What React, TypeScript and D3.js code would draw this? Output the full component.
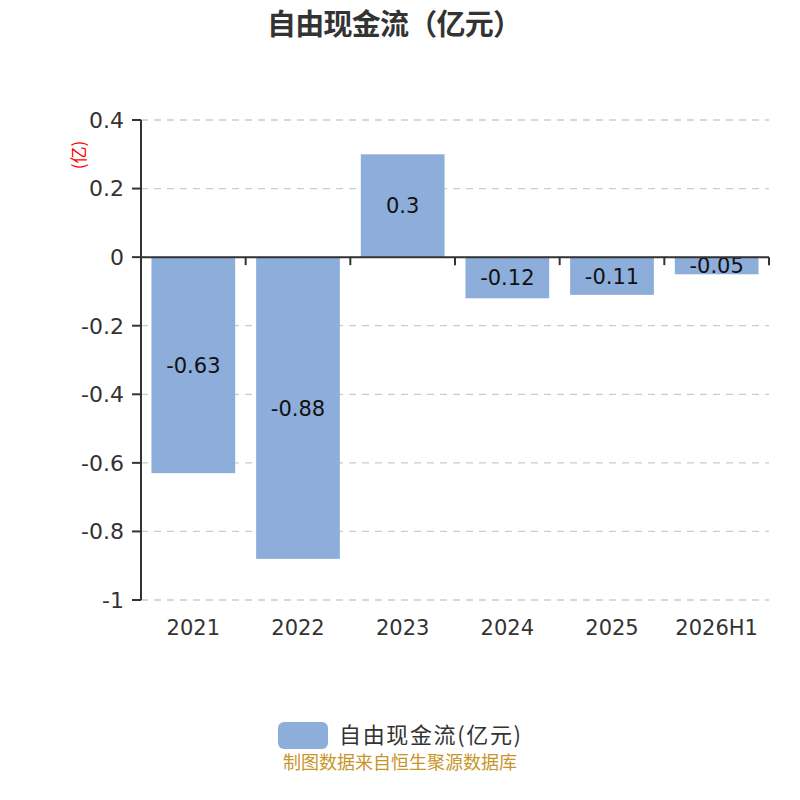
import React from "react";
import * as d3 from "d3";

const categories = ["2021", "2022", "2023", "2024", "2025", "2026H1"];
const values = [-0.63, -0.88, 0.3, -0.12, -0.11, -0.05];
const valueLabels = ["-0.63", "-0.88", "0.3", "-0.12", "-0.11", "-0.05"];
const yTicks = [0.4, 0.2, 0, -0.2, -0.4, -0.6, -0.8, -1];
const title = "自由现金流（亿元）";
const seriesName = "自由现金流(亿元)";
const unitLabel = "(亿)";
const footer = "制图数据来自恒生聚源数据库";

const W = 800;
const H = 800;
const left = 141;
const right = 769;
const top = 120;
const bottom = 600;
const cjkFont = "'Noto Sans CJK SC', 'Noto Sans', sans-serif";
const numFont = "'DejaVu Sans', 'Noto Sans', sans-serif";
const barColor = "#8daddb";

export default function App() {
  const x = d3.scaleBand<string>().domain(categories).range([left, right]).paddingInner(0.2).paddingOuter(0.1);
  const band = d3.scaleBand<string>().domain(categories).range([left, right]);
  const y = d3.scaleLinear().domain([-1, 0.4]).range([bottom, top]);
  const y0 = y(0);
  const fmt = (v: number) => (v === 0 ? "0" : String(v));

  return (
    <svg width={W} height={H} style={{ position: "absolute", left: 0, top: 0, background: "#fff" }} fontFamily={cjkFont}>
      <text x={394.5} y={35} textAnchor="middle" fontSize={29} fontWeight="bold" fill="#333" textLength={255} lengthAdjust="spacing">{title}</text>

      {yTicks.map((t) => (
        <g key={t}>
          <line x1={left} x2={right} y1={y(t)} y2={y(t)} stroke="#cccccc" strokeWidth={1.3} strokeDasharray="7,6" />
          <line x1={left - 9} x2={left} y1={y(t)} y2={y(t)} stroke="#333" strokeWidth={2} />
          <text x={left - 17} y={y(t)} dy="0.36em" textAnchor="end" fontSize={22} fontFamily={numFont} fill="#333">{fmt(t)}</text>
        </g>
      ))}

      <text transform={`translate(85,155) rotate(-90)`} textAnchor="middle" fontSize={17} fill="red">{unitLabel}</text>

      {categories.map((c, i) => {
        const v = values[i];
        const bx = x(c)!;
        const yTop = y(Math.max(0, v));
        const yBot = y(Math.min(0, v));
        return (
          <g key={c}>
            <rect x={bx} y={yTop} width={x.bandwidth()} height={yBot - yTop} fill={barColor} />
            <text x={bx + x.bandwidth() / 2} y={(yTop + yBot) / 2} dy="0.36em" textAnchor="middle" fontSize={21} fontFamily={numFont} fill="#111">{valueLabels[i]}</text>
          </g>
        );
      })}

      <line x1={left} x2={left} y1={top} y2={bottom} stroke="#333" strokeWidth={2} />
      <line x1={left} x2={right} y1={y0} y2={y0} stroke="#333" strokeWidth={2} />
      {categories.map((c) => (
        <line key={"t" + c} x1={band(c)! + band.bandwidth()} x2={band(c)! + band.bandwidth()} y1={y0} y2={y0 + 8} stroke="#333" strokeWidth={2} />
      ))}
      {categories.map((c) => (
        <text key={"l" + c} x={band(c)! + band.bandwidth() / 2} y={635} textAnchor="middle" fontSize={21} fontFamily={numFont} fill="#333">{c}</text>
      ))}

      <rect x={278} y={722} width={50} height={27} rx={6} fill={barColor} />
      <text x={339} y={735} dy="0.36em" fontSize={22} fill="#333" textLength={182} lengthAdjust="spacing">{seriesName}</text>

      <text x={400} y={769} textAnchor="middle" fontSize={18} fill="#c8952a">{footer}</text>
    </svg>
  );
}
